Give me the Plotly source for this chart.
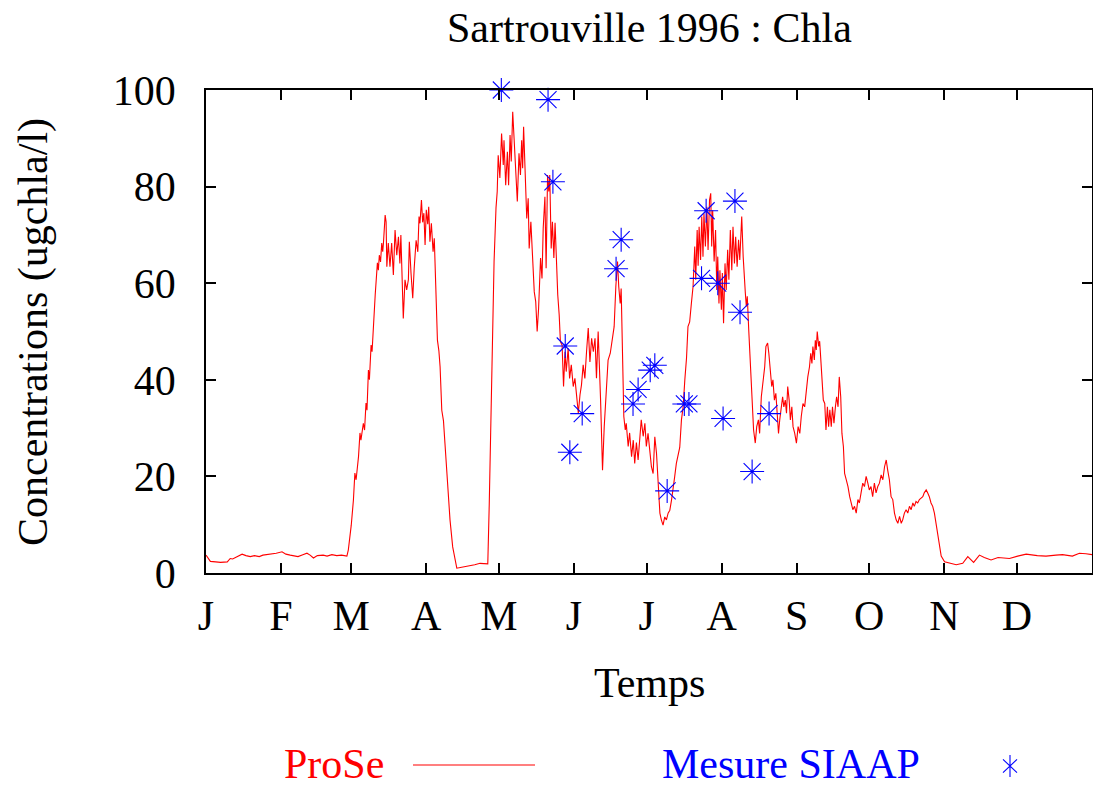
import plotly.graph_objects as go

# ProSe simulated chlorophyll-a at Sartrouville, 1996 (day of year, ugchla/l)
prose_day = [
    0, 1.8, 4, 6, 8.8, 10, 11, 13, 14.9, 16.5, 18.3, 20, 22, 23.5, 25.2, 27, 29, 31.4, 33, 34.8,
    36.5, 38, 40, 41.7, 43, 44.4, 46, 48.4, 50, 52, 54, 56, 58.2,
    58.8, 60, 60.9, 61.5, 62, 63, 63.6, 64, 65, 65.5, 66.1, 66.5, 67.1, 67.5, 68.2, 68.6, 69.2,
    69.9, 70.8, 71.2, 71.6, 72.1, 72.6, 73.0, 73.3, 74, 74.4, 74.7, 75.3, 76, 76.7, 77.4, 78.1,
    78.8, 79.5, 80.1, 80.5, 81, 81.5, 82.2, 82.9, 83.6, 84, 84.7, 85.4, 86, 86.8, 87.5, 88, 88.4,
    89, 89.5, 90, 90.5, 91, 91.6, 92, 92.5, 93.1, 93.8, 94.3, 94.9, 95.6, 96.2, 96.7, 97.4, 98.1,
    98.7, 99.7, 100.8, 101.9, 103, 103.6, 105.6, 107.5, 109, 111, 113.2, 115, 116.4,
    117, 118, 119, 119.8, 120.3, 120.7, 121.4, 122.1, 122.8, 123.1, 123.8, 124.5, 125, 125.6,
    126.1, 126.7, 127.2, 127.8, 128.6, 129.3, 129.9, 130.4, 130.8, 131.2, 131.8, 132.5, 133.1,
    133.5, 134.2, 134.9, 135.6, 136.2, 136.8, 137.4, 138.2, 138.8, 139.3, 140, 140.5, 141.1,
    141.6, 142, 142.6, 143.1, 143.7, 144.2, 144.8, 145.3, 145.9, 146.4, 147.1, 147.7, 148.3,
    148.8, 149.6, 150.2, 150.9, 151.7, 152.4, 153.1, 153.8, 154.5, 155.1, 155.8, 156.5, 157.2,
    157.9, 158.6, 159.3, 160, 160.7, 161.3, 162,
    163, 163.8, 164.5, 165.2, 166.1, 167, 167.9, 168.6, 169.3, 170, 170.5, 171.1, 171.5, 171.9,
    172.6, 173.2, 173.6, 174.4, 175, 175.8, 176.5, 177.1, 177.8, 178.5, 179.2, 179.8, 180.6,
    181.3, 181.9, 182.6, 183.3, 184, 184.7, 185.4, 186.1, 186.8, 187.5, 188.1, 188.8, 189.5,
    190.2, 190.9, 191.6, 192.3, 192.9, 193.6, 194.3, 195, 195.7, 196.4, 197.1, 197.8, 198.5,
    199.1, 199.8, 200.5, 201.2, 201.9, 202.3, 202.9, 203.3, 203.7, 204.3, 204.8, 205.3, 205.7,
    206.3, 206.9, 207.4, 208, 208.5, 208.9, 209.3, 209.9, 210.5, 211, 211.4, 211.9, 212.3,
    212.9, 213.3, 213.8, 214.4, 214.9, 215.5, 216, 216.6, 217.2, 217.7, 218.3, 218.8, 219.4,
    220, 220.5, 220.9, 221.3, 221.9, 222.2, 222.8, 223.2, 223.6, 224.2, 224.9, 225.5, 226.2,
    226.9, 227.5, 228.2, 228.7, 229.4, 230.1, 230.8, 231.3, 232, 232.5, 233.1, 233.7, 234.2,
    234.8, 235.4, 235.9, 236.5, 237, 237.6, 238.2, 238.7, 239.3, 239.8, 240.3, 240.9, 241.4,
    242, 242.5, 243.2, 243.9, 244.6, 245.3, 245.9, 246.6, 247.3, 248, 248.6, 249.3, 249.8,
    250.3, 250.7, 251.3, 251.7, 252.1, 252.5, 253.1, 253.5, 253.9, 254.4, 255, 255.6, 256.1,
    256.7, 257.2, 257.7, 258.3, 258.8, 259.4, 260, 260.5, 261.1, 261.6, 262.2, 262.7, 263.3,
    263.8, 264.5, 265.2, 265.9, 266.6, 267.2, 267.9, 268.6, 269.3, 269.9, 270.6, 271.3, 272,
    272.7, 273.4, 274, 274.7, 275.4, 276.1, 276.8, 277.5, 278.2, 278.9, 279.6, 280.3, 281,
    281.6, 282.3, 283, 283.7, 284.4, 285.1, 285.8, 286.5, 287.2, 287.8, 288.5, 289.2, 289.9,
    290.6, 291.3, 292, 292.6, 293.3, 294, 294.7, 295.4, 296.1, 296.7, 297.5, 298.1, 298.8,
    299.5, 300.2, 300.9, 301.6, 302.3, 303, 303.7, 305.1, 307.2, 309.9, 312.6, 314.7, 317.1,
    319.5, 321.5, 324.3, 327.2, 331.9, 335.3, 338.8, 343.4, 347, 351.1, 353.8, 357.9, 360.8,
    363.5, 366,
]
prose_chla = [
    3.7, 2.4, 2.3, 2.2, 2.3, 3.0, 2.9, 3.4, 3.9, 3.6, 3.4, 3.6, 3.4, 3.7, 3.8, 3.9, 4.1, 4.4, 3.9, 3.7,
    3.6, 3.4, 3.8, 4.1, 3.7, 3.1, 3.6, 3.7, 3.5, 3.8, 3.6, 3.7, 3.5,
    4.8, 9.9, 15.1, 20.7, 19.3, 24.1, 29, 27.5, 31, 29.6, 35.2, 33.7, 42, 40, 47.2, 45.8, 52.4,
    57.6, 64.2, 62.7, 65.8, 64.4, 68.3, 66.5, 68.3, 74.1, 72.7, 63.4, 68.3, 63.4, 68.3, 61.7, 71,
    65.8, 69.6, 64.1, 70, 62.7, 52.7, 60.7, 58.6, 60.7, 68.6, 62, 56.9, 63.1, 68.9, 66.5, 73.8, 72.4,
    77.2, 72.6, 74.5, 67.9, 75.2, 72.2, 75.8, 68.6, 72.4, 66.5, 69.3, 59.6, 48.2, 46, 42.7, 33.7, 31.5,
    26.9, 19.3, 11, 5.4, 2.0, 1.0, 1.2, 1.4, 1.4, 1.7, 2.0, 1.9, 1.9,
    14.1, 42.4, 64.5, 75.6, 79, 86.5, 81.8, 91, 84.5, 89.6, 80.3, 87.2, 80.3, 90.7,
    85.2, 95.5, 90.7, 86.5, 76.9, 86.9, 82.4, 89.6, 83.8, 92.4, 81.7, 73.4, 77.6,
    67.2, 72.7, 66.2, 58.2, 56.2, 50, 54.8, 65.2, 61, 71.4, 77.9, 63.1, 82.4,
    79, 82.4, 67.2, 72.7, 65.2, 72.5, 63.4, 57.6, 53.4, 47.9, 47.2, 38.6, 45.8,
    41.7, 46.5, 40.3, 43.1, 38.6, 40.3, 35.8, 33.1, 36.9, 38.9, 43.1, 40.3, 45.8,
    50.7, 43.7, 48.6, 45.8, 48.6, 40.3, 50,
    35.8, 21.3, 30.3, 35.8, 44.1, 45.5, 48.9, 51, 59.3, 64.5, 59.3, 55.8, 58.9, 49.6,
    32.4, 29.6, 31, 26.2, 29, 24.1, 27.5, 22.7, 27, 23.4, 28.9, 31.7, 28.3,
    31, 26.2, 28.9, 25.5, 22, 20.6, 28.2, 24.8, 17.9, 12.4, 11, 9.9, 11.6,
    11, 12.4, 13, 15.1, 17.9, 19.9, 22.7, 24.8, 26, 31.7, 34.4, 40, 44.5,
    51, 52, 55.8, 59.3, 67.6, 60.7, 71, 63.6, 71.7, 64.8, 73.8, 65.5, 74.5,
    67.6, 75.8, 66.9, 77.2, 78.6, 67.6, 75.1, 64.5, 71, 58.6, 65.5, 55.8, 62.7,
    54.5, 62.1, 51.7, 64.1, 58.6, 66.9, 60.7, 71, 62.7, 71.7, 64.1, 69.6, 63.4,
    69, 64.8, 69.6, 73.8, 65.5, 62, 57.9, 55.2, 57.3, 50.3, 42, 34.4, 29.6,
    26.9, 30.3, 31.7, 28.9, 36.5, 40, 42.7, 46.9, 47.6, 45.5, 42.7, 38.6, 40,
    35.8, 37.2, 33.1, 28.9, 31.7, 34.4, 36.5, 34.4, 35.8, 33.1, 38.6, 35.8, 31.7,
    34.4, 30.3, 28.9, 26.9, 30.3, 28.9, 32.4, 35.1, 34.4, 37.9, 40.6, 42.7, 45.5,
    43.4, 46.9, 44.1, 48.2, 46.2, 50, 46.9, 48, 44.8, 40, 35.8, 35.1, 29.6,
    34.4, 30.3, 33.8, 30.3, 34.4, 31, 34.4, 36.5, 34.4, 40.6, 36.5, 28.9, 26.2,
    20.6, 19.3, 17.9, 15.8, 14.5, 13.1, 13.8, 12.4, 15.2, 14.5, 16.6, 18.6, 17.9,
    20, 18.6, 17.2, 17.9, 15.8, 18.6, 16.6, 17.9, 18.6, 20.3, 19.3, 22, 23.4,
    21.3, 19.3, 15.8, 15.2, 12.4, 11, 10.3, 11.7, 10.3, 11, 12.4, 13.1, 12.4,
    13.8, 13.1, 14.5, 13.8, 14.8, 14.5, 15.2, 15.5, 15.8, 16.6, 17.2, 16.6, 15.8,
    14.5, 13.8, 12.4, 10.3, 7.5, 5.5, 3.5, 2.3, 2.0, 1.7, 2.0, 3.4, 2.2,
    3.7, 3.2, 2.7, 3.2, 3.0, 3.5, 3.9, 3.6, 3.5, 3.7, 3.8, 3.5, 4.1,
    4.0, 3.8,
]

# SIAAP field measurements
siaap_day = [122, 141.3, 143.3, 148.4, 150.3, 155.4, 169.4, 171.5, 176.4, 178.5, 183.5, 185.4,
             190.5, 197.6, 199.5, 204.7, 206.6, 211.4, 213.6, 218.5, 220.6, 225.6, 232.6]
siaap_chla = [100, 98, 81, 47, 25, 33, 63, 69, 35, 38, 42, 43,
              17, 35, 35, 61, 75, 60, 32, 77, 54, 21, 33]

month_start = [0, 31, 60, 91, 121, 152, 182, 213, 244, 274, 305, 335]
month_label = ["J", "F", "M", "A", "M", "J", "J", "A", "S", "O", "N", "D"]
y_ticks = [0, 20, 40, 60, 80, 100]

W, H = 1093, 787
L, R, T, B = 206, 1, 90, 214
PW, PH = W - L - R, H - T - B


def px(x):
    return (x - L) / PW


def py(y):
    return (H - B - y) / PH


FONT = "Liberation Serif"
FS = 42

fig = go.Figure()
fig.add_trace(go.Scatter(
    x=prose_day, y=prose_chla, mode="lines",
    line=dict(color="#ff0000", width=1.1), name="ProSe", showlegend=False,
))
fig.add_trace(go.Scatter(
    x=siaap_day, y=siaap_chla, mode="markers",
    marker=dict(symbol="asterisk-open", size=20, color="#0000ff",
                line=dict(color="#0000ff", width=1.1)),
    name="Mesure SIAAP", showlegend=False, cliponaxis=False,
))

axis_common = dict(
    showline=True, linecolor="black", linewidth=1.6, mirror="ticks",
    ticks="inside", ticklen=10, tickwidth=1.6, tickcolor="black",
    showgrid=False, zeroline=False,
    tickfont=dict(family=FONT, size=FS, color="black"),
)
fig.update_xaxes(range=[0, 366], tickmode="array", tickvals=month_start,
                 ticktext=month_label, ticklabelstandoff=5, **axis_common)
fig.update_yaxes(range=[0, 100], tickmode="array", tickvals=y_ticks,
                 ticklabelstandoff=20, **axis_common)

annotations = [
    dict(text="Sartrouville 1996 : Chla", x=px(649), y=py(28)),
    dict(text="Temps", x=px(649), y=py(683)),
    dict(text="Concentrations (ugchla/l)", x=px(33), y=py(332), textangle=-90),
    dict(text="ProSe", x=px(334), y=py(764), height=40,
         font=dict(family=FONT, size=FS, color="#ff0000")),
    dict(text="Mesure SIAAP", x=px(791), y=py(764), height=40,
         font=dict(family=FONT, size=FS, color="#0000ff")),
]
for a in annotations:
    a.setdefault("font", dict(family=FONT, size=FS, color="black"))
    a.update(xref="paper", yref="paper", showarrow=False, xanchor="center", yanchor="middle")

# legend keys drawn after their labels
ax, ay = 1010, 766
hx, hy = 7 / PW, 11 / PH
star = (f"M{px(ax)},{py(ay) - hy} L{px(ax)},{py(ay) + hy} "
        f"M{px(ax) - hx},{py(ay) - hy * 0.6} L{px(ax) + hx},{py(ay) + hy * 0.6} "
        f"M{px(ax) - hx},{py(ay) + hy * 0.6} L{px(ax) + hx},{py(ay) - hy * 0.6}")
shapes = [
    dict(type="line", xref="paper", yref="paper", x0=px(413), x1=px(535), y0=py(765), y1=py(765),
         line=dict(color="#ff0000", width=1.1)),
    dict(type="path", xref="paper", yref="paper", path=star, line=dict(color="#0000ff", width=1.1)),
]

fig.update_layout(
    width=W, height=H, margin=dict(l=L, r=R, t=T, b=B, autoexpand=False),
    paper_bgcolor="white", plot_bgcolor="white",
    annotations=annotations, shapes=shapes, showlegend=False,
)
fig.write_html("out.html")
